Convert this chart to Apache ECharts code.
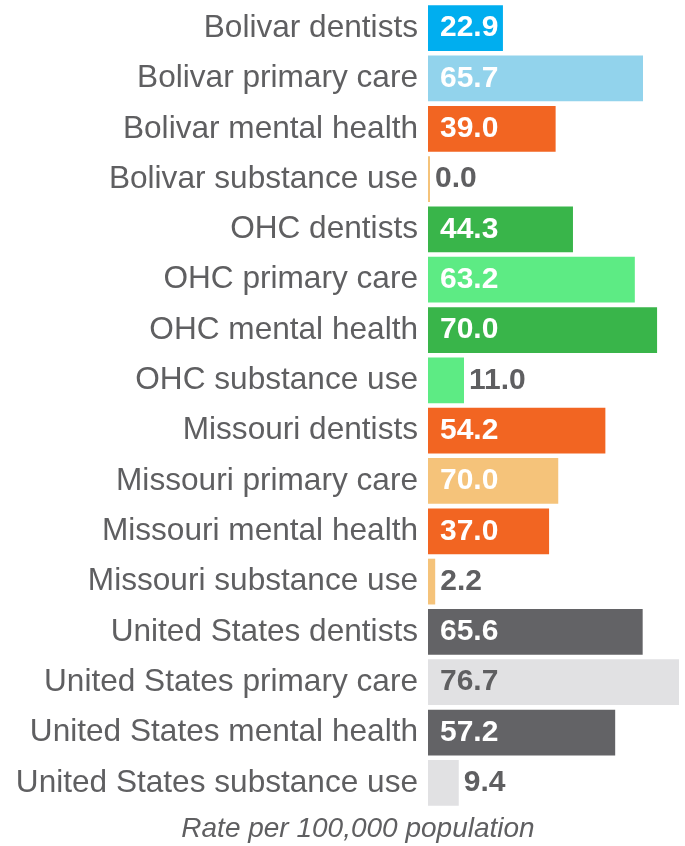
<!DOCTYPE html>
<html>
<head>
<meta charset="utf-8">
<script src="https://cdn.jsdelivr.net/npm/echarts@6/dist/echarts.min.js"></script>
<style>
  html, body { margin: 0; padding: 0; background: #fff; }
  #chart { width: 685px; height: 846px; }
</style>
</head>
<body>
<div id="chart"></div>
<script>
const categories = [
  'Bolivar dentists', 'Bolivar primary care', 'Bolivar mental health', 'Bolivar substance use',
  'OHC dentists', 'OHC primary care', 'OHC mental health', 'OHC substance use',
  'Missouri dentists', 'Missouri primary care', 'Missouri mental health', 'Missouri substance use',
  'United States dentists', 'United States primary care', 'United States mental health', 'United States substance use'
];
// bar lengths as drawn (Missouri primary care bar is drawn shorter than its label)
const values = [22.9, 65.7, 39.0, 0.0, 44.3, 63.2, 70.0, 11.0, 54.2, 39.8, 37.0, 2.2, 65.6, 76.7, 57.2, 9.4];
const valueLabels = ['22.9', '65.7', '39.0', '0.0', '44.3', '63.2', '70.0', '11.0', '54.2', '70.0', '37.0', '2.2', '65.6', '76.7', '57.2', '9.4'];
const barColors = [
  '#00AEEF', '#92D3EC', '#F26522', '#F5C37A',
  '#39B54A', '#5DEB84', '#39B54A', '#5DEB84',
  '#F26522', '#F5C37A', '#F26522', '#F5C37A',
  '#636366', '#E1E1E3', '#636366', '#E1E1E3'
];
const axisTitle = 'Rate per 100,000 population';

const textGray = '#5f5f61';
const font = 'Liberation Sans, Arial, sans-serif';

const chart = echarts.init(document.getElementById('chart'));

const data = values.map((v, i) => {
  const small = v < 15;
  const lightBg = barColors[i] === '#E1E1E3';
  return {
    value: v,
    itemStyle: {color: barColors[i]},
    label: {
      show: true,
      position: small ? 'right' : 'insideLeft',
      distance: small ? 5 : 12,
      formatter: valueLabels[i],
      color: small || lightBg ? textGray : '#ffffff',
      fontWeight: 'bold',
      fontSize: 30,
      fontFamily: font,
      padding: [3, 0, 0, 0]
    }
  };
});

chart.setOption({
  animation: false,
  grid: {left: 428, right: 6, top: 3, height: 805},
  xAxis: {
    type: 'value',
    min: 0,
    max: 76.7,
    show: false
  },
  yAxis: {
    type: 'category',
    data: categories,
    inverse: true,
    axisLine: {show: false},
    axisTick: {show: false},
    axisLabel: {
      margin: 10,
      fontSize: 31.6,
      color: textGray,
      fontFamily: font,
      padding: [5, 0, 0, 0]
    }
  },
  series: [{
    type: 'bar',
    data: data,
    barCategoryGap: '9%',
    barMinHeight: 2
  }],
  graphic: [{
    type: 'text',
    x: 358,
    y: 843,
    style: {
      text: axisTitle,
      fill: textGray,
      fontSize: 28,
      fontStyle: 'italic',
      fontFamily: font,
      align: 'center',
      verticalAlign: 'bottom'
    }
  }]
});
</script>
</body>
</html>
